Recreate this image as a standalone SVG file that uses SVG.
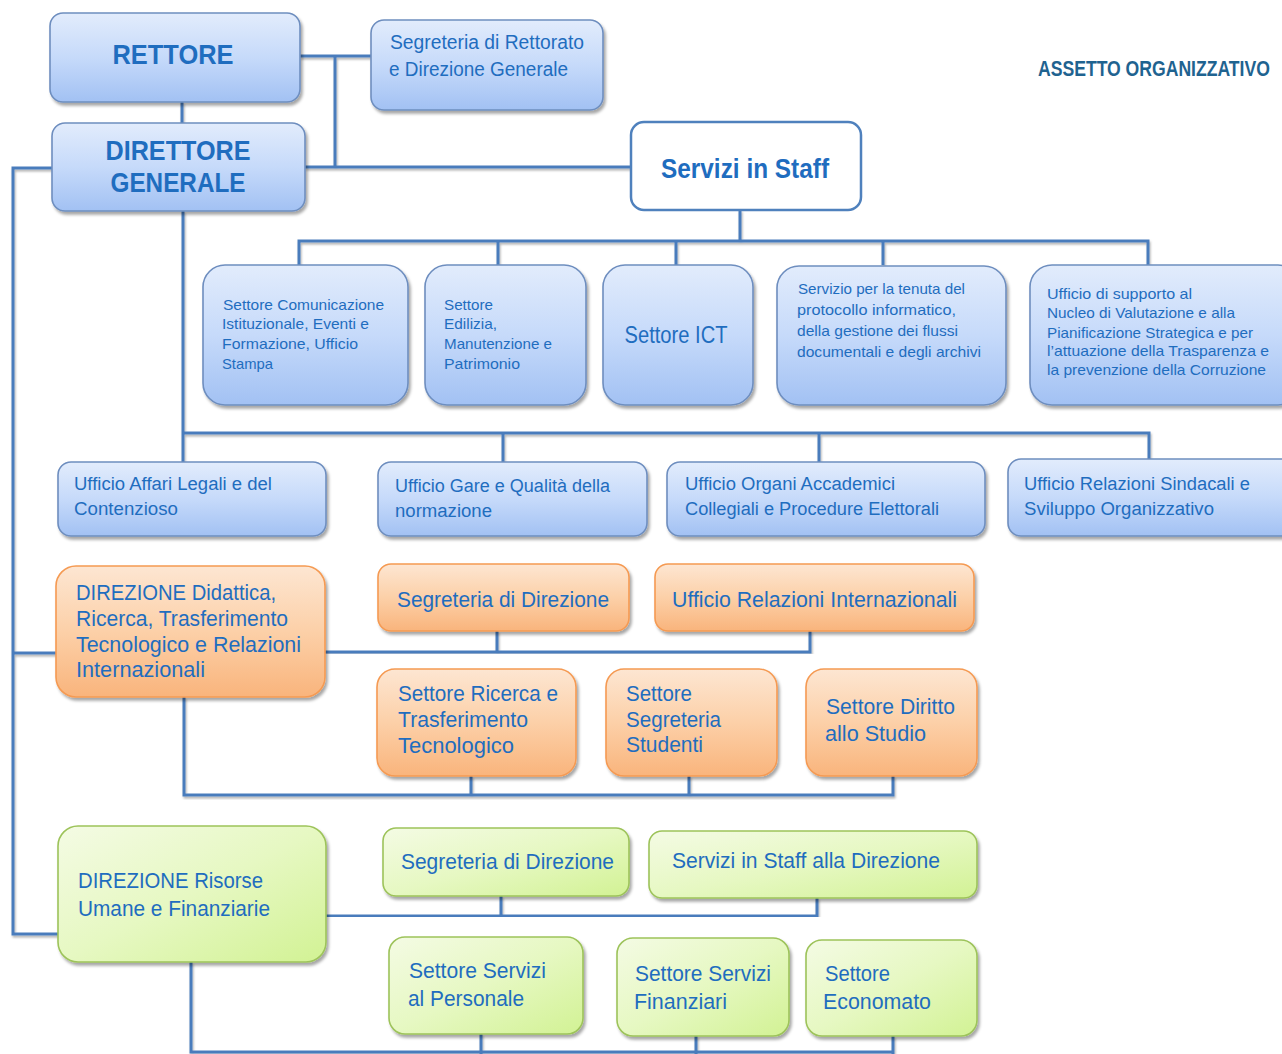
<svg xmlns="http://www.w3.org/2000/svg" width="1282" height="1054" viewBox="0 0 1282 1054">
<defs>
<linearGradient id="gBlue" x1="0" y1="0" x2="0" y2="1"><stop offset="0" stop-color="#e2ecfc"/><stop offset="0.5" stop-color="#c6dafa"/><stop offset="1" stop-color="#a2c1f3"/></linearGradient>
<linearGradient id="gOrange" x1="0" y1="0" x2="0" y2="1"><stop offset="0" stop-color="#fde6d2"/><stop offset="0.5" stop-color="#fcd0a8"/><stop offset="1" stop-color="#f9b47c"/></linearGradient>
<linearGradient id="gGreen" x1="0" y1="0" x2="1" y2="1"><stop offset="0" stop-color="#f4fbe4"/><stop offset="0.5" stop-color="#e6f8c2"/><stop offset="1" stop-color="#d2f294"/></linearGradient>
<filter id="sh" x="-10%" y="-10%" width="130%" height="140%"><feDropShadow dx="2" dy="3" stdDeviation="1.8" flood-color="#000" flood-opacity="0.35"/></filter>
<filter id="lsh" x="-5%" y="-5%" width="110%" height="110%"><feDropShadow dx="1" dy="2" stdDeviation="0.8" flood-color="#000" flood-opacity="0.3"/></filter>
</defs>
<style>
.b{fill:url(#gBlue);stroke:#6e8ebf;stroke-width:1.6;filter:url(#sh)}
.o{fill:url(#gOrange);stroke:#f59a52;stroke-width:1.6;filter:url(#sh)}
.g{fill:url(#gGreen);stroke:#9dc35a;stroke-width:1.6;filter:url(#sh)}
.w{fill:#ffffff;stroke:#4f81bd;stroke-width:2.5}
text{font-family:"Liberation Sans Narrow","Liberation Sans",Arial,sans-serif;fill:#1f6dbf}
.s{font-size:15px}
.m{font-size:18px}
.l{font-size:22px}
.bold{font-weight:bold}
.conn{fill:none;stroke:#4a7cbc;stroke-width:3;filter:url(#lsh)}
</style>

<g id="connectors">
<path class="conn" d="M300 56 H371 M335 56 V167 M182 102 V123 M305 167 H631"/>
<path class="conn" d="M52 168 H13 V934 H58 M13 653 H56"/>
<path class="conn" d="M740 210 V241 M299 265 V241 H1148 V265 M498 241 V265 M676 241 V265 M883 241 V265"/>
<path class="conn" d="M183 211 V462 M183 433 H1149 V462 M503 433 V462 M819 433 V462"/>
<path class="conn" d="M325 652 H810 V631 M497 631 V652"/>
<path class="conn" d="M184 697 V795 H893 V776 M471 776 V795 M689 776 V795"/>
<path class="conn" d="M326 916 H817 V898 M501 896 V916"/>
<path class="conn" d="M191 962 V1052 H893 M481 1034 V1054 M696 1036 V1054 M893 1036 V1054"/>
</g>

<text transform="translate(1038 76) scale(0.8 1)" x="0" y="0" font-size="22" font-weight="bold" style="fill:#1f6390">ASSETTO ORGANIZZATIVO</text>

<g id="rettore"><rect class="b" x="50" y="13" width="250" height="89" rx="13"/><text x="173" y="64" text-anchor="middle" font-size="28" class="bold" textLength="121" lengthAdjust="spacingAndGlyphs">RETTORE</text></g>
<g id="segreteria-rettorato"><rect class="b" x="371" y="20" width="232" height="90" rx="13"/><text x="390" y="49" font-size="20" textLength="194" lengthAdjust="spacingAndGlyphs">Segreteria di Rettorato</text><text x="389" y="76" font-size="20" textLength="179" lengthAdjust="spacingAndGlyphs">e Direzione Generale</text></g>
<g id="direttore"><rect class="b" x="52" y="123" width="253" height="88" rx="13"/><text x="178" y="160" text-anchor="middle" font-size="28" class="bold" textLength="145" lengthAdjust="spacingAndGlyphs">DIRETTORE</text><text x="178" y="192" text-anchor="middle" font-size="28" class="bold" textLength="135" lengthAdjust="spacingAndGlyphs">GENERALE</text></g>
<g id="servizi-staff"><rect class="w" x="631" y="122" width="230" height="88" rx="13"/><text x="745" y="178" text-anchor="middle" font-size="28" class="bold" textLength="168" lengthAdjust="spacingAndGlyphs">Servizi in Staff</text></g>

<g id="staff-comunicazione"><rect class="b" x="203" y="265" width="205" height="140" rx="22"/>
<text class="s" x="223" y="310" textLength="161" lengthAdjust="spacingAndGlyphs">Settore Comunicazione</text>
<text class="s" x="222" y="329" textLength="147" lengthAdjust="spacingAndGlyphs">Istituzionale, Eventi e</text>
<text class="s" x="222" y="349" textLength="136" lengthAdjust="spacingAndGlyphs">Formazione, Ufficio</text>
<text class="s" x="222" y="369" textLength="51" lengthAdjust="spacingAndGlyphs">Stampa</text></g>
<g id="staff-edilizia"><rect class="b" x="425" y="265" width="161" height="140" rx="22"/>
<text class="s" x="444" y="310" textLength="49" lengthAdjust="spacingAndGlyphs">Settore</text>
<text class="s" x="444" y="329" textLength="53" lengthAdjust="spacingAndGlyphs">Edilizia,</text>
<text class="s" x="444" y="349" textLength="108" lengthAdjust="spacingAndGlyphs">Manutenzione e</text>
<text class="s" x="444" y="369" textLength="76" lengthAdjust="spacingAndGlyphs">Patrimonio</text></g>
<g id="staff-ict"><rect class="b" x="603" y="265" width="150" height="140" rx="22"/>
<text x="676" y="343" text-anchor="middle" font-size="23" textLength="103" lengthAdjust="spacingAndGlyphs">Settore ICT</text></g>
<g id="staff-protocollo"><rect class="b" x="777" y="266" width="229" height="139" rx="22"/>
<text class="s" x="798" y="294" textLength="167" lengthAdjust="spacingAndGlyphs">Servizio per la tenuta del</text>
<text class="s" x="797" y="315" textLength="159" lengthAdjust="spacingAndGlyphs">protocollo informatico,</text>
<text class="s" x="797" y="336" textLength="161" lengthAdjust="spacingAndGlyphs">della gestione dei flussi</text>
<text class="s" x="797" y="357" textLength="184" lengthAdjust="spacingAndGlyphs">documentali e degli archivi</text></g>
<g id="staff-nucleo"><rect class="b" x="1030" y="265" width="270" height="140" rx="22"/>
<text class="s" x="1047" y="299" textLength="145" lengthAdjust="spacingAndGlyphs">Ufficio di supporto al</text>
<text class="s" x="1047" y="318" textLength="188" lengthAdjust="spacingAndGlyphs">Nucleo di Valutazione e alla</text>
<text class="s" x="1047" y="338" textLength="206" lengthAdjust="spacingAndGlyphs">Pianificazione Strategica e per</text>
<text class="s" x="1047" y="356" textLength="222" lengthAdjust="spacingAndGlyphs">l’attuazione della  Trasparenza e</text>
<text class="s" x="1047" y="375" textLength="219" lengthAdjust="spacingAndGlyphs">la prevenzione della Corruzione</text></g>

<g id="uff-legali"><rect class="b" x="58" y="462" width="268" height="74" rx="13"/>
<text class="m" x="74" y="490" textLength="198" lengthAdjust="spacingAndGlyphs">Ufficio Affari Legali e del</text>
<text class="m" x="74" y="515" textLength="104" lengthAdjust="spacingAndGlyphs">Contenzioso</text></g>
<g id="uff-gare"><rect class="b" x="378" y="462" width="269" height="74" rx="13"/>
<text class="m" x="395" y="492" textLength="215" lengthAdjust="spacingAndGlyphs">Ufficio Gare e Qualità della</text>
<text class="m" x="395" y="517" textLength="97" lengthAdjust="spacingAndGlyphs">normazione</text></g>
<g id="uff-organi"><rect class="b" x="667" y="462" width="318" height="74" rx="13"/>
<text class="m" x="685" y="490" textLength="210" lengthAdjust="spacingAndGlyphs">Ufficio Organi Accademici</text>
<text class="m" x="685" y="515" textLength="254" lengthAdjust="spacingAndGlyphs">Collegiali e Procedure Elettorali</text></g>
<g id="uff-sindacali"><rect class="b" x="1008" y="459" width="290" height="77" rx="13"/>
<text class="m" x="1024" y="490" textLength="226" lengthAdjust="spacingAndGlyphs">Ufficio Relazioni Sindacali e</text>
<text class="m" x="1024" y="515" textLength="190" lengthAdjust="spacingAndGlyphs">Sviluppo Organizzativo</text></g>

<g id="dir-didattica"><rect class="o" x="56" y="566" width="269" height="131" rx="20"/>
<text class="l" x="76" y="600" textLength="200" lengthAdjust="spacingAndGlyphs">DIREZIONE Didattica,</text>
<text class="l" x="76" y="626" textLength="212" lengthAdjust="spacingAndGlyphs">Ricerca, Trasferimento</text>
<text class="l" x="76" y="652" textLength="225" lengthAdjust="spacingAndGlyphs">Tecnologico e Relazioni</text>
<text class="l" x="76" y="677" textLength="129" lengthAdjust="spacingAndGlyphs">Internazionali</text></g>
<g id="o-segreteria"><rect class="o" x="378" y="564" width="251" height="67" rx="13"/>
<text class="l" x="397" y="607" textLength="212" lengthAdjust="spacingAndGlyphs">Segreteria di Direzione</text></g>
<g id="o-relazioni"><rect class="o" x="655" y="564" width="319" height="67" rx="13"/>
<text class="l" x="672" y="607" textLength="285" lengthAdjust="spacingAndGlyphs">Ufficio Relazioni Internazionali</text></g>
<g id="o-ricerca"><rect class="o" x="377" y="669" width="199" height="107" rx="18"/>
<text class="l" x="398" y="701" textLength="160" lengthAdjust="spacingAndGlyphs">Settore Ricerca e</text>
<text class="l" x="398" y="727" textLength="130" lengthAdjust="spacingAndGlyphs">Trasferimento</text>
<text class="l" x="398" y="753" textLength="116" lengthAdjust="spacingAndGlyphs">Tecnologico</text></g>
<g id="o-studenti"><rect class="o" x="606" y="669" width="171" height="107" rx="18"/>
<text class="l" x="626" y="701" textLength="66" lengthAdjust="spacingAndGlyphs">Settore</text>
<text class="l" x="626" y="727" textLength="95" lengthAdjust="spacingAndGlyphs">Segreteria</text>
<text class="l" x="626" y="752" textLength="77" lengthAdjust="spacingAndGlyphs">Studenti</text></g>
<g id="o-diritto"><rect class="o" x="806" y="669" width="171" height="107" rx="18"/>
<text class="l" x="826" y="714" textLength="129" lengthAdjust="spacingAndGlyphs">Settore Diritto</text>
<text class="l" x="825" y="741" textLength="101" lengthAdjust="spacingAndGlyphs">allo Studio</text></g>

<g id="dir-risorse"><rect class="g" x="58" y="826" width="268" height="136" rx="20"/>
<text class="l" x="78" y="888" textLength="185" lengthAdjust="spacingAndGlyphs">DIREZIONE Risorse</text>
<text class="l" x="78" y="916" textLength="192" lengthAdjust="spacingAndGlyphs">Umane e Finanziarie</text></g>
<g id="g-segreteria"><rect class="g" x="383" y="828" width="246" height="68" rx="13"/>
<text class="l" x="401" y="869" textLength="213" lengthAdjust="spacingAndGlyphs">Segreteria di Direzione</text></g>
<g id="g-staff"><rect class="g" x="649" y="831" width="328" height="67" rx="13"/>
<text class="l" x="672" y="868" textLength="268" lengthAdjust="spacingAndGlyphs">Servizi in Staff alla Direzione</text></g>
<g id="g-personale"><rect class="g" x="389" y="937" width="194" height="97" rx="16"/>
<text class="l" x="409" y="978" textLength="137" lengthAdjust="spacingAndGlyphs">Settore Servizi</text>
<text class="l" x="408" y="1006" textLength="116" lengthAdjust="spacingAndGlyphs">al Personale</text></g>
<g id="g-finanziari"><rect class="g" x="617" y="938" width="172" height="98" rx="16"/>
<text class="l" x="635" y="981" textLength="136" lengthAdjust="spacingAndGlyphs">Settore Servizi</text>
<text class="l" x="634" y="1009" textLength="93" lengthAdjust="spacingAndGlyphs">Finanziari</text></g>
<g id="g-economato"><rect class="g" x="806" y="940" width="171" height="96" rx="16"/>
<text class="l" x="825" y="981" textLength="65" lengthAdjust="spacingAndGlyphs">Settore</text>
<text class="l" x="823" y="1009" textLength="108" lengthAdjust="spacingAndGlyphs">Economato</text></g>
</svg>
